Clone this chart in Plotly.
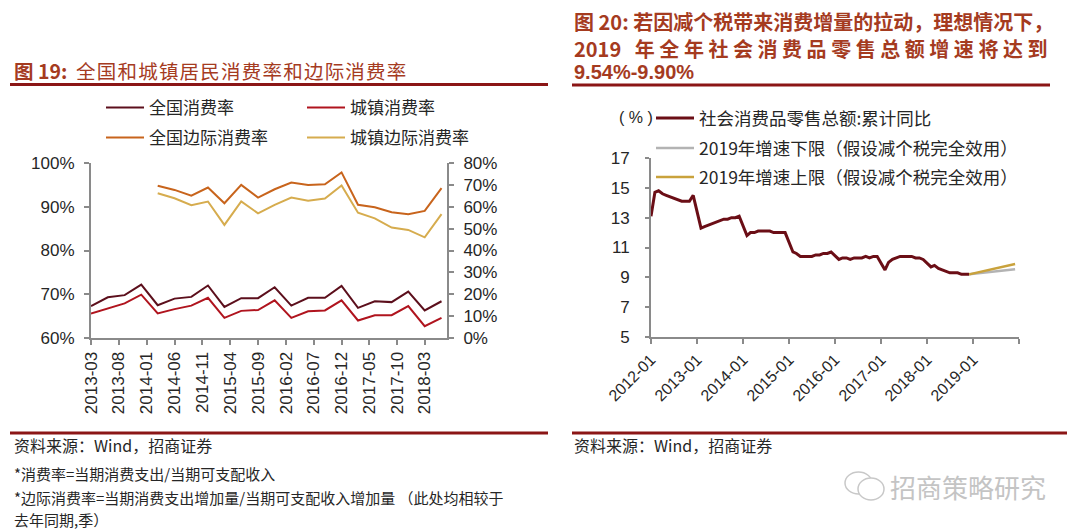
import plotly.graph_objects as go

# The page body has an 8px margin, so the figure is drawn 8px smaller and
# all reference pixel positions are mapped accordingly.
OFF = 8
W, H = 1080 - OFF, 532 - OFF

# ---------------- Left chart data (quarterly, %) ----------------
quarters = ["2013-03", "2013-06", "2013-09", "2013-12",
            "2014-03", "2014-06", "2014-09", "2014-12",
            "2015-03", "2015-06", "2015-09", "2015-12",
            "2016-03", "2016-06", "2016-09", "2016-12",
            "2017-03", "2017-06", "2017-09", "2017-12",
            "2018-03", "2018-06"]
national_rate = [67.3, 69.3, 69.8, 72.2, 67.5, 69.0, 69.4, 72.0, 67.1, 69.1, 69.1, 71.6,
                 67.4, 69.2, 69.2, 71.9, 66.9, 68.4, 68.2, 70.6, 66.3, 68.4]
urban_rate = [65.6, 66.7, 67.9, 69.9, 65.6, 66.6, 67.4, 69.2, 64.6, 66.2, 66.4, 68.6,
              64.6, 66.1, 66.3, 68.6, 64.0, 65.2, 65.2, 67.3, 62.7, 64.6]
national_marginal = [None, None, None, None, 69.6, 67.7, 65.1, 68.8, 61.6, 70.0, 64.2, 68.0,
                     71.1, 70.0, 70.3, 75.7, 60.9, 59.8, 57.5, 56.6, 58.1, 68.5]
urban_marginal = [None, None, None, None, 66.2, 63.9, 60.7, 62.4, 51.7, 62.4, 57.0, 60.9,
                  64.2, 62.8, 63.8, 69.7, 57.3, 54.7, 50.5, 49.4, 46.0, 56.6]
left_ticks = ["2013-03", "2013-08", "2014-01", "2014-06", "2014-11", "2015-04", "2015-09",
              "2016-02", "2016-07", "2016-12", "2017-05", "2017-10", "2018-03"]
left_names = ["全国消费率", "城镇消费率", "全国边际消费率", "城镇边际消费率"]

# ---------------- Right chart data (monthly cumulative YoY, %) ----------------
retail_months = ["2012-01", "2012-02", "2012-03", "2012-04", "2012-05", "2012-06", "2012-07",
                 "2012-08", "2012-09", "2012-10", "2012-11", "2012-12",
                 "2013-02", "2013-03", "2013-04", "2013-05", "2013-06", "2013-07", "2013-08",
                 "2013-09", "2013-10", "2013-11", "2013-12",
                 "2014-02", "2014-03", "2014-04", "2014-05", "2014-06", "2014-07", "2014-08",
                 "2014-09", "2014-10", "2014-11", "2014-12",
                 "2015-02", "2015-03", "2015-04", "2015-05", "2015-06", "2015-07", "2015-08",
                 "2015-09", "2015-10", "2015-11", "2015-12",
                 "2016-02", "2016-03", "2016-04", "2016-05", "2016-06", "2016-07", "2016-08",
                 "2016-09", "2016-10", "2016-11", "2016-12",
                 "2017-02", "2017-03", "2017-04", "2017-05", "2017-06", "2017-07", "2017-08",
                 "2017-09", "2017-10", "2017-11", "2017-12",
                 "2018-02", "2018-03", "2018-04", "2018-05", "2018-06", "2018-07", "2018-08",
                 "2018-09", "2018-10", "2018-11", "2018-12"]
retail_yoy = [13.1, 14.7, 14.8, 14.6, 14.5, 14.4, 14.3, 14.2, 14.1, 14.1, 14.1, 14.5,
              12.3, 12.4, 12.5, 12.6, 12.7, 12.8, 12.9, 12.9, 13.0, 13.0, 13.1,
              11.8, 12.0, 12.0, 12.1, 12.1, 12.1, 12.1, 12.0, 12.0, 12.0, 12.0,
              10.7, 10.6, 10.4, 10.4, 10.4, 10.4, 10.5, 10.5, 10.6, 10.6, 10.7,
              10.2, 10.3, 10.3, 10.2, 10.3, 10.3, 10.3, 10.4, 10.3, 10.4, 10.4,
              9.5, 10.0, 10.2, 10.3, 10.4, 10.4, 10.4, 10.4, 10.3, 10.3, 10.2,
              9.7, 9.8, 9.6, 9.5, 9.4, 9.3, 9.3, 9.3, 9.2, 9.2, 9.2]
proj_months = ["2018-12", "2019-12"]
proj_lower = [9.2, 9.54]
proj_upper = [9.2, 9.90]
right_ticks = ["2012-01", "2013-01", "2014-01", "2015-01", "2016-01", "2017-01",
               "2018-01", "2019-01", "2020-01"]
right_ticktext = right_ticks[:-1] + [""]
right_names = ["社会消费品零售总额:累计同比",
               "2019年增速下限（假设减个税完全效用）",
               "2019年增速上限（假设减个税完全效用）"]


def d(s):
    return s + "-01"


def px(x):
    return (x - OFF) / W


def py(y):
    return 1 - (y - OFF) / H


NUM_FONT = "Liberation Sans, Arial, sans-serif"
CJK_FONT = "Noto Sans CJK SC, sans-serif"
AXIS_COLOR = "#8a8a8a"
TXT = "#262626"
TITLE_COLOR = "#a53b1f"
RULE_COLOR = "#8b1616"
HS = "\u200a"  # hair space for the looser title spacing

fig = go.Figure()

# Left chart traces
left_colors = ["#5c0f1c", "#b0141e", "#c8641c", "#d6ac4e"]
left_series = [national_rate, urban_rate, national_marginal, urban_marginal]
left_axes = ["y", "y", "y2", "y2"]
for i in range(4):
    fig.add_trace(go.Scatter(
        x=[d(q) for q in quarters], y=left_series[i], name=left_names[i],
        mode="lines", line=dict(color=left_colors[i], width=2),
        xaxis="x", yaxis=left_axes[i], legend=["legend", "legend2", "legend3", "legend4"][i],
        connectgaps=False, hoverinfo="skip"))

# Right chart traces
fig.add_trace(go.Scatter(
    x=[d(m) for m in retail_months], y=retail_yoy, name=right_names[0], mode="lines",
    line=dict(color="#6b0e16", width=3), xaxis="x3", yaxis="y3", legend="legend5",
    hoverinfo="skip"))
fig.add_trace(go.Scatter(
    x=[d(m) for m in proj_months], y=proj_lower, name=right_names[1], mode="lines",
    line=dict(color="#b3b3b3", width=2.5), xaxis="x3", yaxis="y3", legend="legend6",
    hoverinfo="skip"))
fig.add_trace(go.Scatter(
    x=[d(m) for m in proj_months], y=proj_upper, name=right_names[2], mode="lines",
    line=dict(color="#c9a23c", width=2.5), xaxis="x3", yaxis="y3", legend="legend7",
    hoverinfo="skip"))

axis_common = dict(showline=True, linecolor=AXIS_COLOR, linewidth=2, ticks="outside",
                   tickcolor=AXIS_COLOR, tickwidth=2, ticklen=5, showgrid=False,
                   zeroline=False, automargin=False,
                   tickfont=dict(family=NUM_FONT, size=17, color=TXT))

layout = dict(
    width=W, height=H, margin=dict(l=0, r=0, t=0, b=0, autoexpand=False),
    paper_bgcolor="white", plot_bgcolor="white",
    xaxis=dict(domain=[px(91), px(447)], anchor="y", type="date",
               range=[d("2013-03"), d("2018-07")],
               tickmode="array", tickvals=[d(t) for t in left_ticks], ticktext=left_ticks,
               tickangle=-90, **axis_common),
    yaxis=dict(domain=[py(338), py(163)], anchor="x", range=[60, 100], dtick=10,
               ticksuffix="%", ticklabelstandoff=6, **axis_common),
    yaxis2=dict(domain=[py(338), py(163)], anchor="x", overlaying="y", side="right",
                range=[0, 80], dtick=10, ticksuffix="%", ticklabelstandoff=6, **axis_common),
    xaxis3=dict(domain=[px(651), px(1019)], anchor="y3", type="date",
                range=[d("2012-01"), d("2020-01")],
                tickmode="array", tickvals=[d(t) for t in right_ticks], ticktext=right_ticktext,
                tickangle=-45, **{**axis_common, "tickfont": dict(family=NUM_FONT, size=16, color=TXT)}),
    yaxis3=dict(domain=[py(337), py(158)], anchor="x3", range=[5, 17], tick0=5, dtick=2,
                ticklabelstandoff=12,
                **{**axis_common, "ticklen": 4,
                   "tickfont": dict(family=NUM_FONT, size=17, color=TXT)}),
    showlegend=True,
)

leg_pos = {"legend": (107, 108, 17), "legend2": (308, 108, 17), "legend3": (107, 138, 17),
           "legend4": (308, 138, 17), "legend5": (657, 118, 17.5), "legend6": (657, 148, 17.5),
           "legend7": (657, 177, 17.5)}
for k, (lx, ly, fs) in leg_pos.items():
    layout[k] = dict(x=px(lx - 6), y=py(ly), bgcolor="rgba(0,0,0,0)", borderwidth=0,
                     itemwidth=38, font=dict(family=CJK_FONT, size=fs, color=TXT),
                     xanchor="left", yanchor="middle", itemclick=False, itemdoubleclick=False)

fig.update_layout(**layout)

# Title rules and footer rules
for (x0, x1, yy) in [(10, 548, 84.5), (572, 1050, 85), (10, 548, 433), (572, 1067, 433)]:
    fig.add_shape(type="line", xref="paper", yref="paper", x0=px(x0), x1=px(x1),
                  y0=py(yy), y1=py(yy), line=dict(color=RULE_COLOR, width=3))

left_title_body = HS.join("全国和城镇居民消费率和边际消费率")
annos = [
    dict(x=12, y=70, text="<b>图 19:</b>  " + left_title_body, size=19.5, color=TITLE_COLOR, font=CJK_FONT),
    dict(x=572, y=21.5, text="<b>图 20: 若因减个税带来消费增量的拉动，理想情况下，</b>", size=20, color=TITLE_COLOR, font=CJK_FONT),
    dict(x=572, y=49, text="<b>2019   年 全 年 社 会 消 费 品 零 售 总 额 增 速 将 达 到</b>", size=20, color=TITLE_COLOR, font=CJK_FONT),
    dict(x=572, y=72, text="<b>9.54%-9.90%</b>", size=20, color=TITLE_COLOR, font=NUM_FONT),
    dict(x=617, y=118, text="( % )", size=16, color=TXT, font=NUM_FONT),
    dict(x=12, y=445, text="资料来源：Wind，招商证券", size=16, color=TXT, font=CJK_FONT),
    dict(x=572, y=445, text="资料来源：Wind，招商证券", size=16, color=TXT, font=CJK_FONT),
    dict(x=12, y=473, text="*消费率=当期消费支出/当期可支配收入", size=15, color=TXT, font=CJK_FONT),
    dict(x=12, y=497, text="*边际消费率=当期消费支出增加量/当期可支配收入增加量 （此处均相较于", size=15, color=TXT, font=CJK_FONT),
    dict(x=12, y=519, text="去年同期,季）", size=15, color=TXT, font=CJK_FONT),
    dict(x=888, y=486, text="招商策略研究", size=26, color="#c4c4c4", font=CJK_FONT),
]
for a in annos:
    fig.add_annotation(xref="paper", yref="paper", x=px(a["x"]), y=py(a["y"]),
                       xanchor="left", yanchor="middle", showarrow=False, text=a["text"],
                       font=dict(family=a["font"], size=a["size"], color=a["color"]))

# WeChat-like watermark icon (two speech bubbles)
fig.add_shape(type="circle", xref="paper", yref="paper", x0=px(845), x1=px(872),
              y0=py(494), y1=py(472), line=dict(color="#c8c8c8", width=1.5))
fig.add_shape(type="circle", xref="paper", yref="paper", x0=px(858), x1=px(884),
              y0=py(500), y1=py(478), line=dict(color="#c8c8c8", width=1.5),
              fillcolor="white")

fig.write_html("out.html")
